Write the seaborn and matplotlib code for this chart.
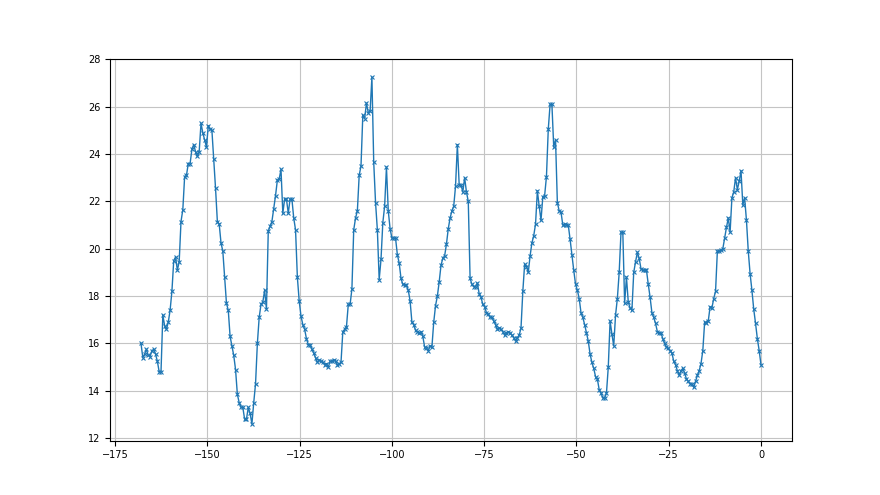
import numpy as np
import pandas as pd
import matplotlib
matplotlib.use('Agg')
import matplotlib.pyplot as plt
import seaborn as sns

# values, left to right (x runs from -168 to 0)
seg_a = [16.0, 15.4, 15.55, 15.75, 15.5, 15.45, 15.7, 15.75, 15.55, 15.25, 14.8, 14.8,
         17.2, 16.75, 16.6, 16.9, 17.4, 18.2, 19.5, 19.65, 19.1, 19.45,
         21.15, 21.65, 23.05, 23.1, 23.6, 23.6, 24.2, 24.4, 24.1, 23.9,
         24.1, 25.3, 24.9, 24.6, 24.3, 25.2, 25.05, 25.0, 23.8, 22.55,
         21.15, 21.05, 20.25, 19.9, 18.8, 17.7, 17.4, 16.3, 15.9, 15.5, 14.9, 13.85]
seg_b = [13.5, 13.3, 13.3, 12.8, 12.8, 13.3, 13.05, 12.6, 13.5, 14.3,
         16.0, 17.1, 17.65, 17.75, 18.25, 17.45, 20.75, 20.95, 21.15, 21.7,
         22.25, 22.9, 22.95, 23.35, 21.5, 22.1, 22.1, 21.5, 22.1, 22.1,
         21.3, 20.8, 18.8, 17.8, 17.15, 16.8, 16.6, 16.2, 15.95, 15.95,
         15.75, 15.6, 15.4, 15.2, 15.3, 15.25, 15.2, 15.1, 15.15, 15.0,
         15.25, 15.25, 15.3, 15.25, 15.1, 15.15, 15.2]
seg_c = [16.5, 16.6, 16.7, 17.65, 17.65, 18.3, 20.8, 21.3, 21.6, 23.1,
         23.5, 25.65, 25.5, 26.15, 25.75, 25.8, 27.25, 23.65, 21.95, 20.8,
         18.7, 19.55, 21.1, 21.8, 23.45, 21.6, 20.85, 20.45, 20.45, 20.45,
         19.75, 19.4, 18.75, 18.5, 18.45, 18.45, 18.25, 17.8, 16.9, 16.8,
         16.55, 16.5, 16.45, 16.5, 16.3, 15.85, 15.8, 15.7, 15.9, 15.85,
         16.9, 17.6, 18.0, 18.6, 19.3, 19.6, 19.7, 20.2, 20.85, 21.3, 21.6]
seg_d = [21.8, 22.65, 24.4, 22.7, 22.7, 22.4, 23.0, 22.4, 22.0, 18.75,
         18.5, 18.4, 18.4, 18.55, 18.1, 17.95, 17.65, 17.55, 17.3, 17.25,
         17.1, 17.1, 16.95, 16.8, 16.6, 16.65, 16.6, 16.5, 16.35, 16.45,
         16.5, 16.45, 16.35, 16.25, 16.1, 16.25, 16.35, 16.65, 18.2, 19.35,
         19.25, 19.0, 19.7, 20.25, 20.55, 21.05, 22.45, 21.8, 21.2, 22.2,
         22.25, 23.05, 25.05]
seg_e = [26.1, 26.1, 24.3, 24.6, 21.95, 21.6, 21.55, 21.0, 21.05, 21.0,
         21.0, 20.4, 19.75, 19.1, 18.5, 18.25, 17.9, 17.3, 17.1, 16.8,
         16.45, 16.1, 15.55, 15.2, 14.95, 14.6, 14.5, 14.05, 13.9, 13.7,
         13.7, 13.9, 15.0, 16.95, 16.4, 15.9, 17.2, 17.9, 19.0, 20.7,
         20.7, 17.7, 18.8, 17.75, 17.5, 17.4, 19.0, 19.45, 19.85, 19.6,
         19.15, 19.1, 19.1, 19.1, 18.5, 17.95, 17.3, 17.1, 16.85, 16.5, 16.45]
seg_f = [16.45, 16.2, 16.0, 15.85, 15.8, 15.7, 15.6, 15.25, 15.1, 14.85,
         14.65, 14.85, 14.95, 14.75, 14.5, 14.4, 14.3, 14.3, 14.15, 14.4,
         14.65, 14.85, 15.15, 15.7, 16.9, 16.85, 16.95, 17.55, 17.5, 17.9,
         18.2, 19.9, 19.9, 19.95, 20.0, 20.45, 20.9, 21.3, 20.7, 22.15,
         22.4, 23.0, 22.5, 22.85, 23.3, 21.85, 22.15, 21.2, 19.9, 18.95,
         18.25, 17.45, 16.85, 16.2, 15.7, 15.1]

values = seg_a + seg_b + seg_c + seg_d + seg_e + seg_f
x_start, x_end = -168, 0

df = pd.DataFrame({'x': np.linspace(x_start, x_end, len(values)), 'y': values})

plt.rcParams['font.size'] = 7
fig, ax = plt.subplots(figsize=(8.8, 4.95), dpi=100)
sns.lineplot(x='x', y='y', data=df, ax=ax, color='#1f77b4', marker='x',
             markersize=3.5, linewidth=1, markeredgewidth=0.8,
             markeredgecolor='#1f77b4')
ax.grid(True, color='#c4c4c4', linewidth=0.8)
ax.set_axisbelow(True)
ax.set_xlabel('')
ax.set_ylabel('')
ax.set_yticks(range(12, 29, 2))
ax.set_ylim(11.9, 28.0)

fig.savefig('out.png', dpi=100)
